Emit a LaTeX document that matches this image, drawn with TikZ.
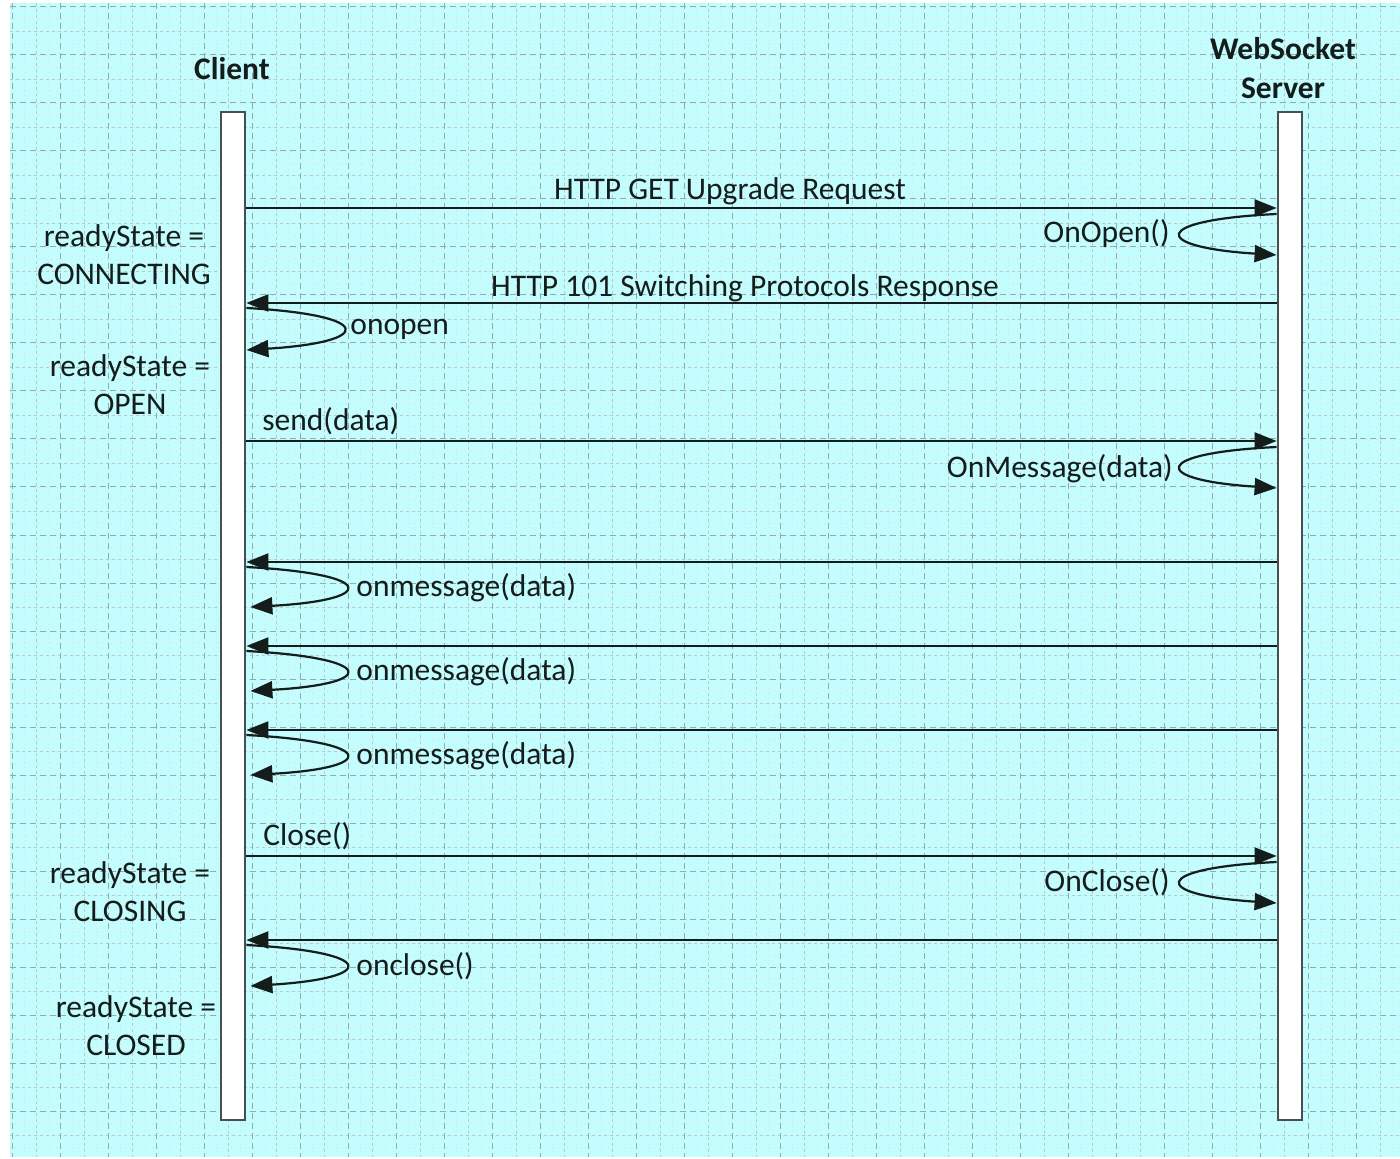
\documentclass[tikz,border=0pt]{standalone}
\usepackage{fontspec}
\setmainfont{Carlito}
\usetikzlibrary{arrows.meta}
\definecolor{bgcyan}{RGB}{195,253,253}
\definecolor{gridc}{RGB}{120,160,165}
\definecolor{ink}{RGB}{20,28,28}
\definecolor{barline}{RGB}{70,80,80}
\begin{document}
\begin{tikzpicture}[x=0.5pt,y=-0.5pt,
  lbl/.style={font=\fontsize{15.75}{19}\selectfont, text=ink, inner sep=0pt, anchor=base},
  lblw/.style={lbl, anchor=base west},
  lble/.style={lbl, anchor=base east},
  hdr/.style={lbl, font=\fontsize{15.75}{19}\selectfont\bfseries},
  lifebar/.style={draw=barline, line width=1.4pt, fill=white, minimum width=12pt, minimum height=504pt, inner sep=0pt},
  msg/.style={draw=ink, line width=1.1pt, -{Triangle[length=11pt,width=8.5pt]}},
  gfine/.style={gridc!30, line width=0.3pt, dotted},
  gmid/.style={gridc!55, line width=0.4pt, dash pattern=on 1.5pt off 1.5pt},
  gmaj/.style={gridc!85, line width=0.5pt, dash pattern=on 3pt off 2pt},
]
% background
\fill[white] (0,0) rectangle (1400,1159);
\fill[bgcyan] (10,3) rectangle (1400,1157);
\begin{scope}
\clip (10,3) rectangle (1400,1157);
\foreach \x in {0,12,...,1400} \draw[gfine] (\x,3) -- (\x,1157);
\foreach \y in {-5,7,...,1160} \draw[gfine] (10,\y) -- (1400,\y);
\foreach \x in {36,84,...,1400} \draw[gmid] (\x,3) -- (\x,1157);
\foreach \y in {31,79,...,1160} \draw[gmid] (10,\y) -- (1400,\y);
\foreach \x in {12,60,...,1400} \draw[gmaj] (\x,3) -- (\x,1157);
\foreach \y in {7,55,...,1160} \draw[gmaj] (10,\y) -- (1400,\y);
\end{scope}
\useasboundingbox (0,0) rectangle (1400,1159);

% headers
\node[hdr] (clienthdr) at (232,80) {Client};
\node[hdr] (serverhdr1) at (1283,60) {WebSocket};
\node[hdr] (serverhdr2) at (1283,99) {Server};

% lifelines
\node[lifebar] (client) at (233,616) {};
\node[lifebar] (server) at (1290,616) {};

% state labels
\node[lbl] (rs1a) at (124,247) {readyState =};
\node[lbl] (rs1b) at (124,285) {CONNECTING};
\node[lbl] (rs2a) at (130,377) {readyState =};
\node[lbl] (rs2b) at (130,415) {OPEN};
\node[lbl] (rs3a) at (130,883) {readyState =};
\node[lbl] (rs3b) at (130,921) {CLOSING};
\node[lbl] (rs4a) at (136,1017) {readyState =};
\node[lbl] (rs4b) at (136,1055) {CLOSED};

% handshake
\draw[msg] (client.east |- 0,208) -- (server.west |- 0,208);
\node[lbl] (m1) at (730,200) {HTTP GET Upgrade Request};
\draw[msg] (server.west |- 0,214) .. controls (1150,220) and (1150,247) .. (server.west |- 0,255);
\node[lble] (onopenS) at (1170,243) {OnOpen()};
\draw[msg] (server.west |- 0,303) -- (client.east |- 0,303);
\node[lbl] (m2) at (745,297) {HTTP 101 Switching Protocols Response};
\draw[msg] (client.east |- 0,308) .. controls (375,315) and (375,342) .. (client.east |- 0,350);
\node[lblw] (onopenC) at (350,335) {onopen};

% data
\draw[msg] (client.east |- 0,441) -- (server.west |- 0,441);
\node[lblw] (send) at (262,431) {send(data)};
\draw[msg] (server.west |- 0,447) .. controls (1150,453) and (1150,480) .. (server.west |- 0,488);
\node[lble] (onmsgS) at (1173,478) {OnMessage(data)};

\draw[msg] (server.west |- 0,562) -- (client.east |- 0,562);
\draw[msg] (client.east |- 0,567) .. controls (378,574) and (378,600) .. ([xshift=2pt]client.east |- 0,607);
\node[lblw] (onmsgC1) at (356,596) {onmessage(data)};
\draw[msg] (server.west |- 0,646) -- (client.east |- 0,646);
\draw[msg] (client.east |- 0,651) .. controls (378,658) and (378,684) .. ([xshift=2pt]client.east |- 0,691);
\node[lblw] (onmsgC2) at (356,680) {onmessage(data)};
\draw[msg] (server.west |- 0,730) -- (client.east |- 0,730);
\draw[msg] (client.east |- 0,735) .. controls (378,742) and (378,768) .. ([xshift=2pt]client.east |- 0,775);
\node[lblw] (onmsgC3) at (356,764) {onmessage(data)};

% close
\draw[msg] (client.east |- 0,856) -- (server.west |- 0,856);
\node[lblw] (close) at (263,845) {Close()};
\draw[msg] (server.west |- 0,862) .. controls (1150,868) and (1150,895) .. (server.west |- 0,903);
\node[lble] (oncloseS) at (1170,891) {OnClose()};
\draw[msg] (server.west |- 0,940) -- (client.east |- 0,940);
\draw[msg] (client.east |- 0,945) .. controls (378,952) and (378,978) .. ([xshift=2pt]client.east |- 0,986);
\node[lblw] (oncloseC) at (356,975) {onclose()};
\end{tikzpicture}
\end{document}
